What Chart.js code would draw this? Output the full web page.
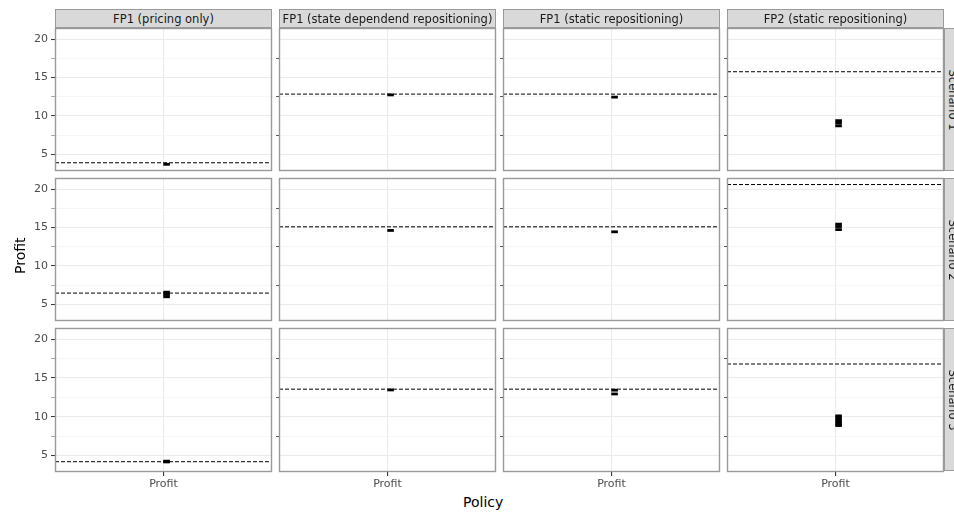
<!DOCTYPE html>
<html>
<head>
<meta charset="utf-8">
<script src="https://cdn.jsdelivr.net/npm/chart.js@4.4.1/dist/chart.umd.min.js"></script>
<style>
  html, body { margin: 0; padding: 0; background: #fff; }
  #wrap { position: relative; width: 954px; height: 514px; overflow: hidden; font-family: "DejaVu Sans", sans-serif; }
  #wrap canvas { position: absolute; }
  .strip { position: absolute; box-sizing: border-box; background: #d9d9d9; border: 1px solid #9a9a9a;
           color: #1a1a1a; font-size: 11.5px; display: flex; align-items: center; justify-content: center; white-space: nowrap; }
  .strip-y span { transform: rotate(90deg); display: block; }
  .title { position: absolute; color: #000; font-size: 14px; white-space: nowrap; }
</style>
</head>
<body>
<div id="wrap"></div>
<script>
// ── Data ───────────────────────────────────────────────────────────

const POLICIES = [
  'FP1 (pricing only)',
  'FP1 (state dependend repositioning)',
  'FP1 (static repositioning)',
  'FP2 (static repositioning)',
];
const SCENARIOS = ['Scenario 1', 'Scenario 2', 'Scenario 3'];
const CATEGORY = 'Profit';
const Y_TICKS = [5, 7.5, 10, 12.5, 15, 17.5, 20];

// benchmark profit (dashed line), one per policy
const BENCH_S1 = [3.92, 12.85, 12.85, 15.76];
const BENCH_S2 = [6.48, 15.1, 15.1, 20.6];
const BENCH_S3 = [4.18, 13.55, 13.55, 16.8];

// simulated profits, one list per policy
const SIM_S1 = [[3.72], [12.75], [12.46], [9.4, 9.08, 8.72]];
const SIM_S2 = [[6.6, 6.3, 6.0], [14.63], [14.45], [15.45, 15.14, 14.74]];
const SIM_S3 = [[4.25, 4.15], [13.45], [13.42, 12.93], [10.1, 9.85, 9.55, 9.3, 9.05, 8.85]];

const BENCH = [BENCH_S1, BENCH_S2, BENCH_S3];
const SIM = [SIM_S1, SIM_S2, SIM_S3];

// ── Layout ─────────────────────────────────────────────────────────

const Y_MIN = 2.85, Y_MAX = 21.45;
const X_MIN = 0.4, X_MAX = 1.6, X_CAT = 1, X_POINT = 1.017;
const PANEL_X = 55, PANEL_Y = 28, PANEL_W = 217, PANEL_H = 143, GAP_X = 7, GAP_Y = 7;

const wrap = document.getElementById('wrap');
const MUTED = '#4d4d4d';

// draws the grey panel frame on top of everything
const panelFrame = {
  id: 'panelFrame',
  afterDraw(chart) {
    const { ctx, chartArea: a } = chart;
    ctx.save();
    ctx.strokeStyle = '#9a9a9a';
    ctx.lineWidth = 1.4;
    ctx.strokeRect(a.left + 0.5, a.top + 0.5, a.right - a.left - 1, a.bottom - a.top - 1);
    ctx.restore();
  },
};

function addDiv(cls, text, style) {
  const d = document.createElement('div');
  d.className = cls;
  d.innerHTML = text;
  Object.assign(d.style, style);
  wrap.appendChild(d);
  return d;
}

function makePanel(r, c) {
  const x0 = PANEL_X + c * (PANEL_W + GAP_X);
  const y0 = PANEL_Y + r * (PANEL_H + GAP_Y);
  const axisW = c === 0 ? 55 : 4;
  const bottomH = r === SCENARIOS.length - 1 ? 22 : 0;

  const canvas = document.createElement('canvas');
  canvas.width = axisW + PANEL_W + 2;
  canvas.height = PANEL_H + 2 + bottomH;
  canvas.style.left = (x0 - axisW) + 'px';
  canvas.style.top = (y0 - 1) + 'px';
  wrap.appendChild(canvas);

  const bench = BENCH[r][c];
  const sims = SIM[r][c];

  new Chart(canvas, {
    data: {
      datasets: [
        {
          type: 'scatter',
          order: 0,
          data: sims.map(v => ({ x: X_POINT, y: v })),
          pointStyle: 'line',
          pointRadius: 3.3,
          pointBorderWidth: 2.8,
          borderColor: '#000',
          backgroundColor: '#000',
        },
        {
          type: 'line',
          order: 1,
          data: [{ x: X_MIN, y: bench }, { x: X_MAX, y: bench }],
          borderColor: '#000',
          borderWidth: 1,
          borderDash: [4, 2],
          pointRadius: 0,
        },
      ],
    },
    options: {
      responsive: false,
      animation: false,
      devicePixelRatio: 1,
      layout: { autoPadding: false, padding: { top: 1, right: 2, bottom: bottomH ? 0 : 1, left: 0 } },
      plugins: { legend: { display: false }, tooltip: { enabled: false } },
      scales: {
        x: {
          type: 'linear',
          min: X_MIN,
          max: X_MAX,
          afterBuildTicks(s) { s.ticks = [{ value: X_CAT }]; },
          afterFit(s) { s.height = bottomH; s.paddingLeft = 0; s.paddingRight = 0; },
          border: { display: false },
          grid: {
            color: '#ebebeb',
            lineWidth: 1.1,
            drawTicks: bottomH > 0,
            tickLength: 4,
            tickColor: '#333',
          },
          ticks: {
            display: bottomH > 0,
            padding: 2,
            maxRotation: 0,
            color: MUTED,
            font: { family: 'DejaVu Sans', size: 11 },
            callback: () => CATEGORY,
          },
        },
        y: {
          type: 'linear',
          min: Y_MIN,
          max: Y_MAX,
          afterBuildTicks(s) { s.ticks = Y_TICKS.map(v => ({ value: v })); },
          afterFit(s) { s.width = axisW; s.paddingTop = 0; s.paddingBottom = 0; },
          border: { display: false },
          grid: {
            color: ctx => (ctx.tick && ctx.tick.value % 5 === 0 ? '#ebebeb' : '#f4f4f4'),
            lineWidth: ctx => (ctx.tick && ctx.tick.value % 5 === 0 ? 1.1 : 0.7),
            drawTicks: true,
            tickLength: c === 0 ? 4 : 3,
            tickWidth: 1,
            tickColor: ctx => {
              const major = ctx.tick && ctx.tick.value % 5 === 0;
              if (c === 0) return major ? '#333' : '#aaa';
              return major ? 'rgba(0,0,0,0)' : '#555';
            },
          },
          ticks: {
            display: c === 0,
            padding: 3,
            color: MUTED,
            font: { family: 'DejaVu Sans', size: 11 },
            callback: v => (v % 5 === 0 ? String(v) : ''),
          },
        },
      },
    },
    plugins: [panelFrame],
  });
}

// ── Build facets ───────────────────────────────────────────────────

SCENARIOS.forEach((s, r) => {
  POLICIES.forEach((p, c) => makePanel(r, c));
});

POLICIES.forEach((p, c) => {
  addDiv('strip', p, {
    left: (PANEL_X + c * (PANEL_W + GAP_X)) + 'px', top: '9px',
    width: PANEL_W + 'px', height: (PANEL_Y - 9) + 'px',
  });
});

SCENARIOS.forEach((s, r) => {
  addDiv('strip strip-y', `<span>${s}</span>`, {
    left: (PANEL_X + 4 * PANEL_W + 3 * GAP_X) + 'px', top: (PANEL_Y + r * (PANEL_H + GAP_Y)) + 'px',
    width: '19px', height: PANEL_H + 'px',
  });
});

addDiv('title', 'Policy', { left: '463px', top: '494px' });
addDiv('title', 'Profit', { left: '0px', top: '246px', transform: 'rotate(-90deg)', transformOrigin: '20px 8px' });
</script>
</body>
</html>
